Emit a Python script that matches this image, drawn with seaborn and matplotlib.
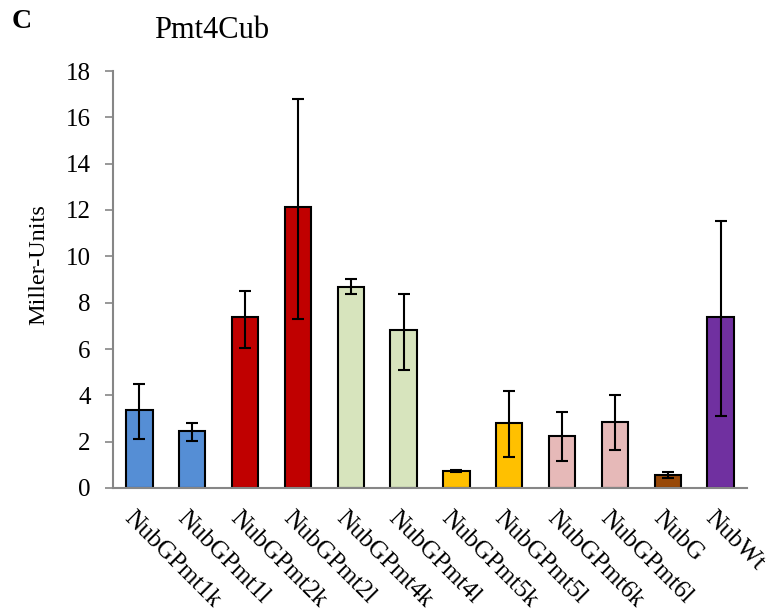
import matplotlib
matplotlib.use("Agg")
import matplotlib.pyplot as plt
import matplotlib.transforms as mtransforms
import seaborn as sns
import numpy as np
import pandas as pd

categories = ["NubGPmt1k", "NubGPmt1l", "NubGPmt2k", "NubGPmt2l", "NubGPmt4k", "NubGPmt4l",
              "NubGPmt5k", "NubGPmt5l", "NubGPmt6k", "NubGPmt6l", "NubG", "NubWt"]
values = [3.36, 2.47, 7.39, 12.12, 8.69, 6.82, 0.74, 2.80, 2.23, 2.86, 0.58, 7.37]
err_top = [4.50, 2.80, 8.51, 16.78, 9.03, 8.36, 0.76, 4.20, 3.28, 4.01, 0.68, 11.54]
err_bottom = [2.13, 2.05, 6.06, 7.29, 8.36, 5.08, 0.71, 1.34, 1.17, 1.65, 0.44, 3.12]
colors = ["#558ED5", "#558ED5", "#C00000", "#C00000", "#D7E4BD", "#D7E4BD",
          "#FFC000", "#FFC000", "#E6B9B8", "#E6B9B8", "#984807", "#7030A0"]
yticks = [0, 2, 4, 6, 8, 10, 12, 14, 16, 18]

sns.set_style("white")
plt.rcParams["font.family"] = ["Liberation Serif", "DejaVu Serif"]
plt.rcParams["text.color"] = "black"
plt.rcParams["xtick.color"] = "black"
plt.rcParams["ytick.color"] = "black"
plt.rcParams["axes.labelcolor"] = "black"

df = pd.DataFrame({"cat": categories, "val": values})

fig = plt.figure(figsize=(7.74, 6.15), dpi=100)
ax = fig.add_axes([113/774, 1 - 488/615, 634/774, 417/615])

sns.barplot(data=df, x="cat", y="val", hue="cat", palette=colors, legend=False,
            width=0.5, edgecolor="black", linewidth=1.5, errorbar=None, saturation=1,
            ax=ax, zorder=2)

vals = np.array(values)
yerr = [vals - np.array(err_bottom), np.array(err_top) - vals]
ax.errorbar(np.arange(len(categories)), vals, yerr=yerr, fmt="none", ecolor="black",
            elinewidth=1.5, capsize=4.2, capthick=1.5, zorder=3)

ax.set_xlim(-0.5, len(categories) - 0.5)
ax.set_ylim(0, 18)
ax.set_yticks(yticks)
ax.set_yticklabels([str(t) for t in yticks], fontsize=18)

for side in ["top", "right"]:
    ax.spines[side].set_visible(False)
for side in ["left", "bottom"]:
    ax.spines[side].set_color("#868686")
    ax.spines[side].set_linewidth(1.5)

ax.tick_params(axis="y", direction="out", length=6, width=1.2, color="#868686",
               labelcolor="black", pad=10, left=True, labelsize=18)
ax.tick_params(axis="x", length=0, pad=0, labelcolor="black")

ax.set_xlabel("")
ax.set_ylabel("Miller-Units", fontsize=17.5, color="black")
ax.yaxis.set_label_coords(-0.10, 0.537)

offset = mtransforms.ScaledTranslation(-0.04, -0.19, fig.dpi_scale_trans)
for lab in ax.get_xticklabels():
    lab.set_rotation(-45)
    lab.set_ha("left")
    lab.set_va("top")
    lab.set_rotation_mode("anchor")
    lab.set_fontsize(18)
    lab.set_color("black")
    lab.set_transform(lab.get_transform() + offset)

fig.text(212/774, 1 - 31/615, "Pmt4Cub", ha="center", va="center", fontsize=22)
fig.text(22/774, 1 - 22/615, "C", ha="center", va="center", fontsize=20, fontweight="bold")

fig.savefig("out.png", dpi=100)
